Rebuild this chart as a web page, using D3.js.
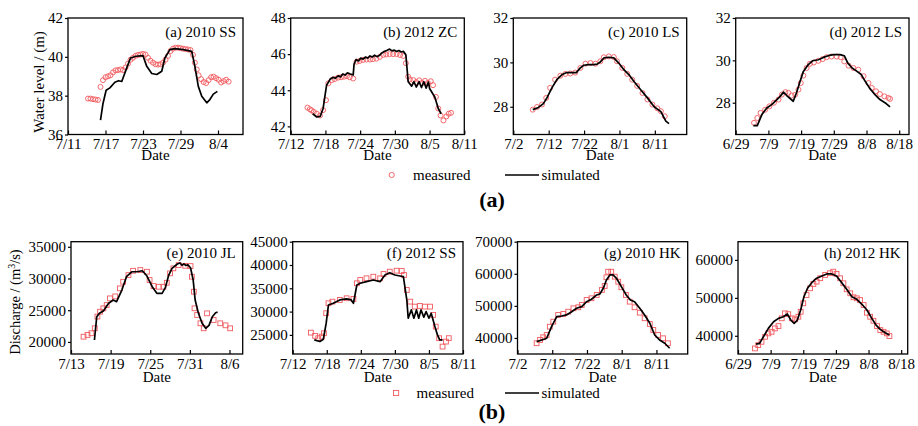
<!DOCTYPE html>
<html>
<head>
<meta charset="utf-8">
<script src="https://cdn.jsdelivr.net/npm/d3@7"></script>
<style>
body { margin: 0; background: #fff; }
text { font-family: "Liberation Serif", "Times New Roman", serif; fill: #000; }
</style>
</head>
<body>
<script>
// times are decimal days counted in July (Aug 4 = 35, Jun 29 = -1)

// (a) 2010 SS water level
var ssMeas2010 = [[14.2,37.85],[14.6,37.85],[15.0,37.82],[15.4,37.8],[15.8,37.78],[16.2,38.45],[16.6,38.8],[17.0,38.95],
  [17.4,39.0],[17.8,39.05],[18.2,39.2],[18.6,39.3],[19.0,39.32],[19.4,39.35],[19.8,39.32],[20.2,39.45],[20.6,39.65],
  [21.0,39.85],[21.4,39.95],[21.8,40.05],[22.2,40.1],[22.6,40.12],[23.0,40.15],[23.4,40.12],[23.8,39.95],[24.2,39.8],
  [24.6,39.7],[25.0,39.62],[25.4,39.6],[25.8,39.62],[26.2,39.7],[26.6,39.85],[27.0,40.05],[27.4,40.3],[27.8,40.42],
  [28.2,40.47],[28.6,40.47],[29.0,40.45],[29.4,40.42],[29.8,40.4],[30.2,40.38],[30.6,40.35],[31.0,40.1],[31.3,39.7],
  [31.6,39.35],[31.9,39.05],[32.3,38.85],[32.7,38.7],[33.1,38.65],[33.5,38.8],[33.9,38.95],[34.3,38.98],[34.7,38.9],
  [35.1,38.82],[35.5,38.68],[35.9,38.75],[36.3,38.82],[36.7,38.72]];
var ssSim2010 = [[16.2,36.74],[16.6,37.6],[17.1,38.28],[17.7,38.4],[18.5,38.69],[19.1,38.77],[19.6,38.73],[20.4,39.43],
  [21.0,39.94],[21.9,40.03],[23.0,40.06],[23.6,39.51],[24.4,39.14],[25.2,39.09],[26.0,39.26],[26.5,39.94],[27.3,40.37],
  [28.1,40.42],[29.45,40.37],[30.8,40.28],[31.3,39.51],[31.85,38.48],[32.4,37.97],[33.2,37.63],[33.7,37.8],[34.25,38.08],
  [34.9,38.22]];

// (b) 2012 ZC water level
var zcMeas2012 = [[14.9,43.04],[15.3,42.95],[15.6,42.89],[16.0,42.8],[16.5,42.7],[17.06,42.6],[17.6,42.9],[18.1,43.45],
  [18.5,44.38],[19.1,44.56],[19.6,44.62],[20.2,44.7],[20.7,44.72],[21.2,44.75],[21.7,44.78],[22.2,44.72],[22.8,44.65],
  [23.4,45.58],[23.9,45.62],[24.5,45.68],[25.1,45.7],[25.7,45.7],[26.2,45.72],[26.8,45.75],[27.4,45.85],[28.0,45.96],
  [28.5,45.98],[29.1,46.0],[29.7,46.0],[30.3,46.0],[30.9,45.95],[31.45,45.9],[31.9,45.5],[32.3,44.75],[32.6,44.6],
  [33.2,44.56],[33.7,44.45],[34.2,44.55],[34.7,44.4],[35.2,44.52],[35.7,44.4],[36.2,44.5],[36.6,44.28],[37.1,43.63],
  [37.5,42.99],[37.9,42.6],[38.4,42.33],[38.9,42.55],[39.3,42.7],[39.7,42.75]];
var zcSim2012 = [[15.8,42.7],[16.5,42.52],[17.1,42.55],[17.6,42.99],[18.2,44.28],[18.8,44.6],[19.3,44.72],[19.7,44.66],
  [20.2,44.8],[20.6,44.74],[21.0,44.9],[21.4,44.84],[21.8,44.96],[22.3,44.9],[22.8,44.85],[22.95,45.45],[23.3,45.7],
  [23.7,45.62],[24.1,45.78],[24.5,45.72],[24.9,45.84],[25.3,45.78],[25.7,45.9],[26.1,45.84],[26.5,45.94],[26.9,45.86],
  [27.3,45.92],[27.7,46.05],[28.1,46.14],[28.6,46.2],[29.1,46.28],[29.5,46.18],[29.9,46.22],[30.3,46.14],[30.7,46.2],
  [31.1,46.12],[31.5,46.15],[31.9,45.96],[32.3,44.47],[32.9,44.23],[33.3,44.47],[33.7,44.18],[34.2,44.47],[34.6,44.15],
  [35.0,44.47],[35.4,44.12],[35.8,44.45],[36.0,44.1],[36.9,43.63],[37.5,42.99],[38.0,42.7]];

// (c) 2010 LS water level
var lsMeas2010 = [[7.5,27.87],[8.7,27.99],[10.1,28.1],[11.3,28.4],[12.4,28.85],[13.8,29.22],[15.3,29.4],[16.7,29.48],
  [18.1,29.5],[19.5,29.54],[20.95,29.75],[22.4,29.94],[23.8,29.97],[25.2,29.94],[26.6,30.05],[27.6,30.23],[29.0,30.27],
  [30.4,30.24],[31.3,30.05],[32.8,29.75],[34.2,29.48],[35.6,29.22],[37.0,28.94],[38.5,28.62],[39.9,28.33],[41.3,28.1],
  [42.7,27.93],[43.7,27.8],[44.8,27.57]];
var lsSim2010 = [[7.5,27.87],[9.1,27.97],[10.5,28.14],[11.5,28.4],[12.9,28.85],[14.3,29.22],[15.7,29.44],[17.1,29.54],
  [18.6,29.54],[19.8,29.54],[20.95,29.75],[21.9,29.87],[23.3,29.9],[24.7,29.9],[25.7,29.92],[26.6,30.02],[27.6,30.2],
  [29.0,30.23],[30.4,30.2],[31.8,29.97],[33.1,29.7],[34.7,29.44],[36.1,29.14],[38.0,28.77],[39.9,28.4],[41.8,28.0],
  [43.7,27.78],[45.1,27.35],[46.0,27.24]];

// (d) 2012 LS water level
var lsMeas2012 = [[4.6,27.05],[5.6,27.28],[6.6,27.52],[8.0,27.67],[9.3,27.83],[10.7,28.0],[12.1,28.15],[13.1,28.38],
  [14.2,28.5],[15.1,28.47],[16.1,28.34],[17.2,28.38],[18.2,28.62],[18.9,28.93],[19.7,29.28],[20.7,29.64],[21.7,29.84],
  [22.9,29.9],[24.3,29.98],[25.6,30.06],[26.8,30.15],[28.3,30.18],[29.9,30.18],[31.1,30.15],[32.2,29.95],[33.5,29.75],
  [35.0,29.64],[36.5,29.56],[38.1,29.25],[39.6,28.93],[40.6,28.7],[41.9,28.54],[43.1,28.41],[44.5,28.3],[45.7,28.23],
  [46.2,28.18]];
var lsSim2012 = [[4.4,26.92],[5.6,26.92],[7.0,27.44],[8.5,27.75],[10.0,27.91],[11.6,28.15],[12.6,28.3],[13.6,28.5],
  [14.6,28.34],[16.6,28.07],[17.6,28.47],[18.7,29.01],[19.7,29.48],[21.2,29.8],[22.5,29.98],[24.3,30.03],[25.8,30.14],
  [27.3,30.22],[28.9,30.27],[30.9,30.27],[32.2,30.22],[33.3,29.87],[34.6,29.64],[36.1,29.48],[37.4,29.33],[38.6,29.01],
  [39.9,28.7],[41.6,28.38],[43.1,28.15],[45.0,27.96],[46.2,27.8]];

// (e) 2010 JL discharge
var jlMeas2010 = [[14.9,20830],[15.5,21100],[16.1,21370],[16.6,22160],[17.0,24000],[17.4,24770],[17.9,25300],[18.4,25820],
  [18.9,26870],[19.7,27180],[20.4,28450],[20.9,29490],[21.7,30540],[22.4,31220],[23.5,31330],[24.5,31070],[24.9,29760],
  [25.5,28810],[26.3,28700],[27.0,28700],[27.5,29330],[28.0,30810],[28.5,31600],[29.3,32120],[30.3,32000],[31.1,31960],
  [31.3,30280],[31.6,27920],[31.7,25300],[32.1,24250],[32.6,22940],[33.1,22150],[33.6,24510],[34.6,23460],[35.6,22940],
  [36.4,22620],[37.1,22150]];
var jlSim2010 = [[16.55,20310],[16.9,23980],[17.3,24510],[17.9,24880],[18.7,26090],[19.4,26610],[19.9,26350],[20.7,28180],
  [21.4,30280],[22.2,31060],[23.0,31060],[23.8,31220],[24.5,30390],[25.3,28700],[26.0,27660],[26.8,27660],[27.3,28600],
  [27.8,30540],[28.3,31600],[29.1,32280],[29.5,32450],[29.8,32100],[30.1,32300],[30.4,32050],[30.7,32150],[31.1,31690],
  [31.5,29760],[31.8,26610],[32.3,24510],[32.85,22940],[33.4,22150],[33.9,22620],[34.4,23980],[34.9,24610],[35.2,24700]];

// (f) 2012 SS discharge
var ssQMeas2012 = [[15.2,25490],[15.95,24790],[16.5,24290],[17.1,24640],[17.5,25360],[17.9,29650],[18.3,31790],[19.0,32140],
  [20.3,32500],[21.5,32860],[22.7,32720],[23.3,36080],[23.9,36790],[25.0,37150],[26.2,37490],[27.4,37150],[28.0,38070],
  [29.1,38570],[30.3,38780],[31.2,38720],[31.6,37860],[32.1,34640],[32.7,32140],[33.5,31070],[34.4,31210],[35.3,31070],
  [36.2,31070],[36.75,29290],[37.2,26780],[37.8,24290],[38.4,22490],[39.0,23560],[39.5,24300]];
var ssQSim2012 = [[15.8,23930],[16.8,23570],[17.4,24080],[17.9,27510],[18.3,31430],[19.15,31790],[20.3,32500],[21.5,32720],
  [22.3,32500],[22.7,31790],[23.3,35710],[23.9,36080],[25.0,36420],[26.2,36790],[27.4,36420],[28.25,37860],[29.1,38350],
  [30.0,37860],[30.9,37640],[31.5,37500],[31.8,35000],[32.1,32500],[32.35,28580],[32.9,30360],[33.35,28580],[33.8,30360],
  [34.2,28580],[34.6,30360],[35.1,28800],[35.5,30000],[36.0,28580],[36.4,29640],[37.05,26780],[37.5,25000],[37.9,23930],
  [38.4,23930]];

// (g) 2010 HK discharge
var hkMeas2010 = [[7.5,38350],[8.5,39380],[9.4,40220],[10.4,40930],[11.3,43520],[12.3,45080],[13.7,47170],[15.2,47480],
  [16.6,48190],[18.1,49250],[19.5,49560],[20.5,50280],[21.9,51840],[23.3,52370],[24.8,53400],[26.3,54950],[27.1,56200],
  [27.6,58910],[28.1,60650],[29.0,60650],[30.0,59100],[31.0,57540],[31.9,55790],[33.2,53400],[34.3,51310],[35.7,49560],
  [37.2,47880],[38.6,46140],[40.1,44360],[41.1,42490],[42.5,40930],[43.9,39900],[45.3,38350]];
var hkSim2010 = [[7.5,38850],[9.0,39380],[10.4,39900],[11.8,43520],[13.3,46640],[14.7,46850],[16.1,47170],[17.6,48190],
  [19.0,49250],[20.5,49750],[21.9,51310],[23.3,52060],[24.8,53400],[25.7,53710],[26.7,55480],[27.6,58070],[28.6,59630],
  [29.5,59630],[30.5,58600],[31.9,55980],[33.3,53400],[34.5,51840],[35.7,51310],[37.2,49250],[38.6,47170],[40.1,44580],
  [41.5,40930],[42.9,39380],[44.4,38350],[45.8,36790]];

// (h) 2012 HK discharge
var hkMeas2012 = [[4.2,36670],[5.2,37540],[6.2,38410],[7.3,39740],[8.3,40630],[9.3,41060],[10.3,41950],[11.4,42560],
  [12.4,44600],[13.4,45920],[14.4,45700],[15.5,44600],[16.5,44330],[17.5,45020],[18.2,46340],[19.0,48560],[20.0,50750],
  [21.1,52520],[22.1,53660],[23.1,54270],[24.2,55170],[25.7,56040],[27.2,56490],[28.2,56910],[29.2,56300],[30.3,55170],
  [31.3,53840],[32.3,52250],[33.4,51200],[34.4,50150],[35.4,49880],[36.4,49430],[37.5,48110],[38.5,46080],[39.5,45020],
  [40.5,43960],[41.6,42560],[42.6,41510],[43.6,41060],[44.6,40630],[45.4,39920]];
var hkSim2012 = [[4.5,37800],[5.6,37990],[6.8,39740],[8.3,41950],[9.9,43700],[11.4,44600],[12.9,45020],[14.1,45730],
  [15.2,44150],[16.2,43280],[17.2,44150],[18.2,46790],[19.2,50300],[20.3,52520],[21.6,54000],[23.1,55170],[24.7,55770],
  [26.2,56300],[27.7,56300],[29.2,55770],[30.8,54000],[32.3,52250],[33.9,50300],[35.4,49620],[36.9,48370],[38.5,46790],
  [40.0,44600],[41.3,42830],[42.6,41690],[44.1,40790],[45.4,40180]];

// tick labels
var ticksA = ['7/11','7/17','7/23','7/29','8/4'];
var ticksB = ['7/12','7/18','7/24','7/30','8/5','8/11'];
var ticksC = ['7/2','7/12','7/22','8/1','8/11'];
var ticksD = ['6/29','7/9','7/19','7/29','8/8','8/18'];
var ticksE = ['7/13','7/19','7/25','7/31','8/6'];
var levelTicksA = [36, 38, 40, 42];
var levelTicksB = [42, 44, 46, 48];
var levelTicksLS = [28, 30, 32];
var flowTicksE = [20000, 25000, 30000, 35000];
var flowTicksF = [25000, 30000, 35000, 40000, 45000];
var flowTicksG = [40000, 50000, 60000, 70000];
var flowTicksH = [40000, 50000, 60000];

var width = 918, height = 426;
var rows = [{top: 18, bottom: 134.5, titleDy: 18.5, dateDy: 25, pad: 3.5},
            {top: 241.7, bottom: 354, titleDy: 16.5, dateDy: 27.5, pad: 4.5}];

var panels = [
  {row: 0, left: 68, right: 243, year: 2010, start: '7/11', end: '8/8', xt: ticksA, yd: [36, 42], yt: levelTicksA, title: '(a) 2010 SS', meas: ssMeas2010, sim: ssSim2010, mk: 'circle'},
  {row: 0, left: 290.7, right: 464.3, year: 2012, start: '7/12', end: '8/11', xt: ticksB, yd: [41.55, 48], yt: levelTicksB, title: '(b) 2012 ZC', meas: zcMeas2012, sim: zcSim2012, mk: 'circle'},
  {row: 0, left: 513.3, right: 686.7, year: 2010, start: '7/2', end: '8/20', xt: ticksC, yd: [26.75, 32], yt: levelTicksLS, title: '(c) 2010 LS', meas: lsMeas2010, sim: lsSim2010, mk: 'circle'},
  {row: 0, left: 735.7, right: 909, year: 2012, start: '6/29', end: '8/21', xt: ticksD, yd: [26.5, 32], yt: levelTicksLS, title: '(d) 2012 LS', meas: lsMeas2012, sim: lsSim2012, mk: 'circle'},
  {row: 1, left: 71, right: 242.7, year: 2010, start: '7/13', end: '8/8', xt: ticksE, yd: [18100, 35800], yt: flowTicksE, title: '(e) 2010 JL', meas: jlMeas2010, sim: jlSim2010, mk: 'square'},
  {row: 1, left: 292.7, right: 463, year: 2012, start: '7/12', end: '8/11', xt: ticksB, yd: [20900, 45000], yt: flowTicksF, title: '(f) 2012 SS', meas: ssQMeas2012, sim: ssQSim2012, mk: 'square'},
  {row: 1, left: 517.5, right: 687.7, year: 2010, start: '7/2', end: '8/20', xt: ticksC, yd: [35000, 70000], yt: flowTicksG, title: '(g) 2010 HK', meas: hkMeas2010, sim: hkSim2010, mk: 'square'},
  {row: 1, left: 738, right: 907.7, year: 2012, start: '6/29', end: '8/20', xt: ticksD, yd: [35200, 64800], yt: flowTicksH, title: '(h) 2012 HK', meas: hkMeas2012, sim: hkSim2012, mk: 'square'}
];

var measColor = '#f05a5f';

function labelDate(year, s) {
  var p = s.split('/');
  return new Date(Date.UTC(year, +p[0] - 1, +p[1]));
}
function dayDate(year, t) {
  return new Date(Date.UTC(year, 6, 1) + (t - 1) * 864e5);
}

var svg = d3.select('body').append('svg')
    .attr('width', width)
    .attr('height', height);
svg.append('rect').attr('width', width).attr('height', height).attr('fill', '#fff');

panels.forEach(function(p) {
  var r = rows[p.row];
  var x = d3.scaleUtc()
      .domain([labelDate(p.year, p.start), labelDate(p.year, p.end)])
      .range([p.left, p.right]);
  var y = d3.scaleLinear().domain(p.yd).range([r.bottom, r.top]);
  var g = svg.append('g');

  var xAxis = g.append('g')
      .attr('transform', 'translate(0,' + r.bottom + ')')
      .call(d3.axisBottom(x)
        .tickValues(p.xt.map(function(s) { return labelDate(p.year, s); }))
        .tickFormat(d3.utcFormat('%-m/%-d'))
        .tickSizeInner(-4).tickSizeOuter(0).tickPadding(r.pad));
  var yAxis = g.append('g')
      .attr('transform', 'translate(' + p.left + ',0)')
      .call(d3.axisLeft(y).tickValues(p.yt).tickFormat(d3.format('d'))
        .tickSizeInner(3).tickSizeOuter(0).tickPadding(2));
  [xAxis, yAxis].forEach(function(a) {
    a.attr('font-family', null).attr('font-size', null);
    a.select('.domain').remove();
    a.selectAll('.tick line').attr('stroke', '#000').attr('stroke-width', 1.2);
    a.selectAll('.tick text').style('font-size', '15px').attr('fill', '#000');
  });

  // measured
  if (p.mk === 'circle') {
    g.selectAll('circle.m').data(p.meas).enter().append('circle')
        .attr('class', 'm')
        .attr('cx', function(d) { return x(dayDate(p.year, d[0])); })
        .attr('cy', function(d) { return y(d[1]); })
        .attr('r', 2.5)
        .attr('fill', 'none')
        .attr('stroke', measColor)
        .attr('stroke-width', 0.9);
  } else {
    g.selectAll('rect.m').data(p.meas).enter().append('rect')
        .attr('class', 'm')
        .attr('x', function(d) { return x(dayDate(p.year, d[0])) - 2.4; })
        .attr('y', function(d) { return y(d[1]) - 2.4; })
        .attr('width', 4.8).attr('height', 4.8)
        .attr('fill', 'none')
        .attr('stroke', measColor)
        .attr('stroke-width', 0.9);
  }

  // simulated
  var line = d3.line()
      .x(function(d) { return x(dayDate(p.year, d[0])); })
      .y(function(d) { return y(d[1]); });
  g.append('path')
      .datum(p.sim)
      .attr('d', line)
      .attr('fill', 'none')
      .attr('stroke', '#000')
      .attr('stroke-width', 1.7)
      .attr('stroke-linejoin', 'round');

  // frame
  g.append('rect')
      .attr('x', p.left).attr('y', r.top)
      .attr('width', p.right - p.left).attr('height', r.bottom - r.top)
      .attr('fill', 'none').attr('stroke', '#000').attr('stroke-width', 1.3);

  g.append('text')
      .attr('x', p.right - 7).attr('y', r.top + r.titleDy)
      .attr('text-anchor', 'end')
      .style('font-size', '15px')
      .text(p.title);

  g.append('text')
      .attr('x', (p.left + p.right) / 2).attr('y', r.bottom + r.dateDy)
      .attr('text-anchor', 'middle')
      .style('font-size', '15px')
      .text('Date');
});

// y titles
svg.append('text')
    .attr('transform', 'translate(44,82) rotate(-90)')
    .attr('text-anchor', 'middle')
    .style('font-size', '15px')
    .text('Water level / (m)');
var qt = svg.append('text')
    .attr('transform', 'translate(20,302) rotate(-90)')
    .attr('text-anchor', 'middle')
    .style('font-size', '14.5px');
qt.append('tspan').text('Discharge / (m');
qt.append('tspan').attr('dy', -5).style('font-size', '10px').text('3');
qt.append('tspan').attr('dy', 5).text('/s)');

// legends
function legend(cy, mk, tag, tagY) {
  if (mk === 'circle') {
    svg.append('circle').attr('cx', 391.7).attr('cy', cy).attr('r', 2.6)
        .attr('fill', 'none').attr('stroke', measColor).attr('stroke-width', 0.9);
  } else {
    svg.append('rect').attr('x', 393.5).attr('y', cy - 2.6).attr('width', 5.2).attr('height', 5.2)
        .attr('fill', 'none').attr('stroke', measColor).attr('stroke-width', 0.9);
  }
  svg.append('text').attr('x', mk === 'circle' ? 413 : 416.5).attr('y', cy + 5)
      .style('font-size', '15px').text('measured');
  svg.append('line').attr('x1', 505).attr('x2', 539).attr('y1', cy).attr('y2', cy)
      .attr('stroke', '#000').attr('stroke-width', 1.5);
  svg.append('text').attr('x', 541.5).attr('y', cy + 5)
      .style('font-size', '15px').text('simulated');
  svg.append('text').attr('x', 492).attr('y', tagY)
      .attr('text-anchor', 'middle')
      .style('font-size', '22px').style('font-weight', 'bold')
      .text(tag);
}
legend(175, 'circle', '(a)', 206.5);
legend(393, 'square', '(b)', 418.5);
</script>
</body>
</html>
